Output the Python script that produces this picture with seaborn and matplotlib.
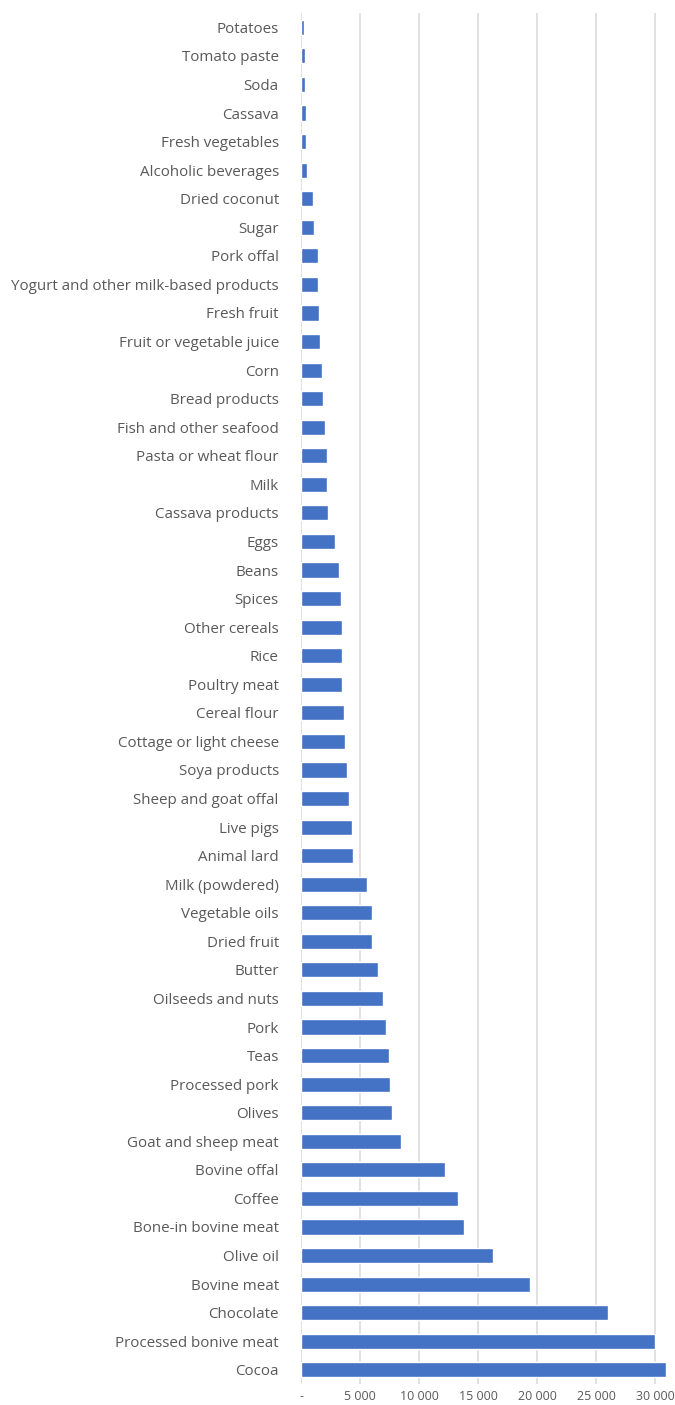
import matplotlib
matplotlib.use("Agg")
import pandas as pd
import seaborn as sns
import matplotlib.pyplot as plt
from matplotlib.ticker import FuncFormatter

# -------------------------
# Data
# -------------------------
products = [
    "Potatoes", "Tomato paste", "Soda", "Cassava", "Fresh vegetables",
    "Alcoholic beverages", "Dried coconut", "Sugar", "Pork offal",
    "Yogurt and other milk-based products", "Fresh fruit",
    "Fruit or vegetable juice", "Corn", "Bread products",
    "Fish and other seafood", "Pasta or wheat flour", "Milk",
    "Cassava products", "Eggs", "Beans", "Spices", "Other cereals", "Rice",
    "Poultry meat", "Cereal flour", "Cottage or light cheese",
    "Soya products", "Sheep and goat offal", "Live pigs", "Animal lard",
    "Milk (powdered)", "Vegetable oils", "Dried fruit", "Butter",
    "Oilseeds and nuts", "Pork", "Teas", "Processed pork", "Olives",
    "Goat and sheep meat", "Bovine offal", "Coffee", "Bone-in bovine meat",
    "Olive oil", "Bovine meat", "Chocolate", "Processed bonive meat", "Cocoa",
]
values = [
    230, 340, 340, 420, 420,
    500, 1000, 1100, 1400,
    1400, 1500,
    1600, 1800, 1900,
    2000, 2200, 2200,
    2300, 2900, 3250, 3360, 3470, 3470,
    3470, 3600, 3760,
    3870, 4070, 4300, 4440,
    5570, 6000, 6000, 6530,
    6950, 7240, 7430, 7540, 7750,
    8500, 12200, 13300, 13800,
    16300, 19400, 26000, 30000, 30900,
]
xticks = [0, 5000, 10000, 15000, 20000, 25000, 30000]

df = pd.DataFrame({"product": products, "value": values})

# -------------------------
# Plot
# -------------------------
sns.set_style("white")
plt.rcParams["font.family"] = ["Open Sans", "DejaVu Sans"]

fig = plt.figure(figsize=(6.75, 14.05), dpi=100)
ax = fig.add_axes([0.446, 0.0149, 0.554, 0.9758])

sns.barplot(data=df, x="value", y="product", orient="h", order=products,
            color="#4472C4", saturation=1, width=0.53, ax=ax)

ax.set_xlim(0, 31700)
ax.set_ylim(len(products) - 0.5, -0.5)
ax.set_xticks(xticks)
ax.xaxis.set_major_formatter(FuncFormatter(
    lambda v, p: "-" if v == 0 else f"{int(v):,}".replace(",", " ")))
ax.grid(axis="x", color="#d9d9d9", linewidth=1.1)
ax.set_axisbelow(True)
for side in ["top", "right", "bottom", "left"]:
    ax.spines[side].set_visible(False)
ax.set_xlabel("")
ax.set_ylabel("")
ax.tick_params(axis="y", length=0, pad=16, labelsize=10.9, labelcolor="#595959")
ax.tick_params(axis="x", length=0, pad=4, labelsize=9, labelcolor="#595959")

fig.savefig("out.png", dpi=100)
